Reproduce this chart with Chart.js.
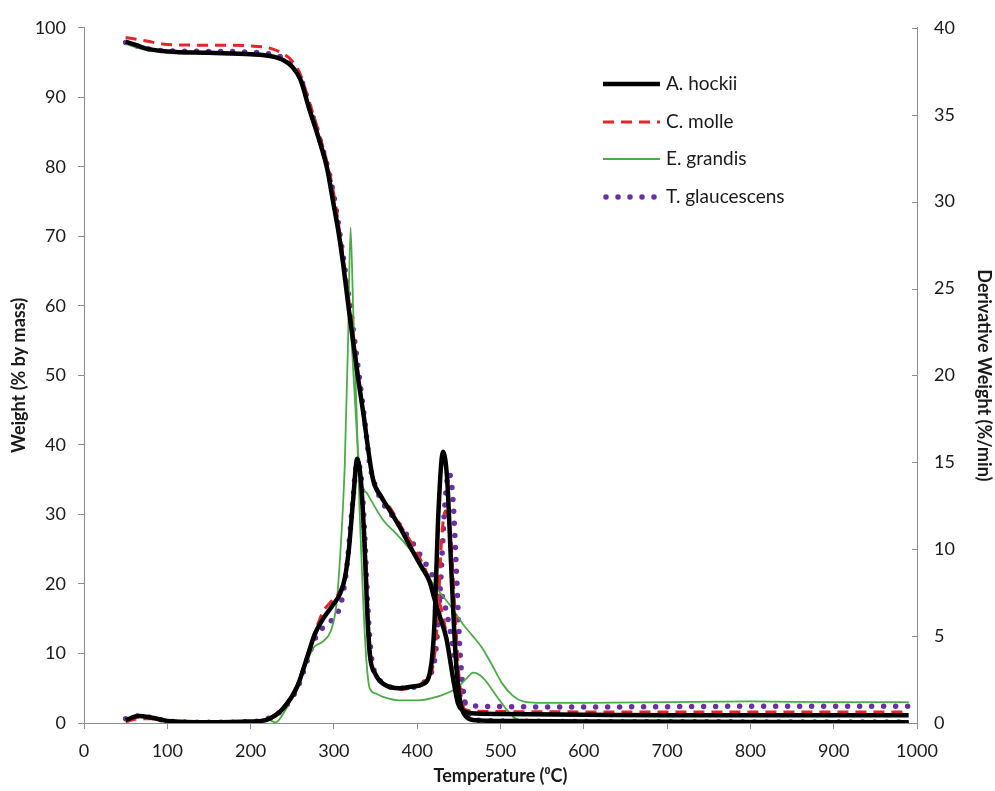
<!DOCTYPE html>
<html>
<head>
<meta charset="utf-8">
<script src="https://cdn.jsdelivr.net/npm/chart.js@4.4.1/dist/chart.umd.min.js"></script>
<style>
  html, body { margin: 0; padding: 0; background: #fff; }
  #wrap { width: 995px; height: 791px; position: relative; }
</style>
</head>
<body>
<div id="wrap"><canvas id="tga"></canvas></div>
<script>
// species names, same order as the legend
const species = ['A. hockii', 'C. molle', 'E. grandis', 'T. glaucescens'];

// TG curves: temperature (°C) and weight (% by mass)
const hockiiTgT = [50, 60, 75, 100, 150, 200, 225, 240, 250, 260, 270, 283, 292, 299, 305, 310, 319, 329, 336, 341, 347, 357, 367, 380, 391, 405, 415, 421, 428, 435, 443, 449, 455, 465, 500, 600, 700, 800, 900, 990];
const hockiiTg  = [98.0, 97.6, 97.0, 96.6, 96.4, 96.2, 95.9, 95.3, 94.4, 92.5, 88.5, 83.6, 79.7, 75.0, 71.0, 67.0, 58.5, 49.6, 44.0, 39.5, 35.0, 32.5, 30.6, 28.0, 25.5, 22.5, 20.3, 17.7, 15.0, 12.2, 6.5, 2.8, 1.8, 1.4, 1.3, 1.2, 1.1, 1.1, 1.1, 1.1];

const molleTgT = [50, 75, 100, 150, 200, 225, 240, 250, 260, 270, 283, 292, 300, 310, 320, 330, 337, 342, 348, 358, 370, 382, 395, 410, 422, 430, 437, 443, 449, 456, 470, 600, 800, 990];
const molleTg  = [98.6, 98.1, 97.6, 97.5, 97.4, 97.0, 96.2, 95.2, 93.2, 89.5, 84.5, 80.5, 76.0, 68.0, 59.0, 49.5, 43.0, 38.5, 35.0, 32.5, 30.5, 28.0, 25.5, 22.0, 18.5, 16.0, 11.0, 6.0, 3.0, 2.0, 1.7, 1.6, 1.6, 1.6];

const grandisTgT = [50, 75, 100, 150, 200, 225, 240, 250, 260, 270, 283, 292, 300, 310, 315, 320, 325, 329, 332, 340, 359, 375, 391, 405, 415, 427, 439, 447, 455, 466, 478, 490, 502, 515, 527, 545, 600, 700, 800, 900, 990];
const grandisTg  = [97.7, 96.8, 96.5, 96.4, 96.3, 96.0, 95.3, 94.4, 92.5, 89.0, 84.0, 80.0, 75.5, 67.5, 63.0, 57.0, 47.0, 39.0, 35.0, 33.0, 29.2, 27.2, 25.0, 22.6, 20.7, 18.8, 17.0, 15.6, 14.2, 12.6, 10.8, 8.3, 5.7, 3.9, 3.1, 2.9, 2.9, 3.0, 3.1, 3.0, 3.0];

const glaucTgT = [50, 75, 100, 150, 200, 225, 240, 250, 260, 270, 283, 292, 300, 310, 320, 330, 337, 343, 350, 359, 370, 383, 395, 407, 417, 424, 432, 440, 446, 451, 456, 462, 480, 600, 800, 990];
const glaucTg  = [97.9, 97.0, 96.7, 96.6, 96.5, 96.2, 95.6, 94.6, 92.8, 89.0, 84.0, 80.2, 75.8, 68.0, 59.5, 50.2, 43.5, 37.3, 34.0, 31.6, 29.8, 27.8, 25.8, 23.5, 21.5, 19.8, 17.5, 13.0, 8.5, 5.6, 3.3, 2.6, 2.4, 2.3, 2.4, 2.4];

// DTG curves: temperature (°C) and derivative weight (%/min)
const hockiiDtgT = [50, 65, 80, 100, 150, 199, 220, 239, 256, 268, 277, 287, 299, 307, 313, 318, 323, 328, 333, 337, 340, 343, 350, 360, 379, 395, 407, 417, 421, 425, 431, 436, 441, 446, 451, 458, 470, 500, 600, 800, 990];
const hockiiDtg  = [0.16, 0.4, 0.32, 0.12, 0.04, 0.08, 0.2, 0.84, 2.1, 3.8, 5.1, 6.0, 6.8, 7.4, 8.3, 10.0, 12.8, 15.2, 13.6, 10.0, 6.4, 4.0, 2.8, 2.24, 2.0, 2.1, 2.24, 3.4, 6.0, 11.6, 15.6, 14.0, 8.8, 4.0, 1.4, 0.4, 0.16, 0.12, 0.08, 0.06, 0.04];

const molleDtgT = [50, 65, 80, 100, 150, 200, 220, 239, 256, 268, 277, 287, 297, 305, 313, 318, 323, 329, 334, 338, 341, 344, 351, 361, 380, 397, 410, 420, 425, 429, 434, 440, 445, 450, 455, 462, 480, 600, 990];
const molleDtg  = [0.08, 0.24, 0.24, 0.12, 0.04, 0.08, 0.24, 0.9, 2.2, 3.9, 5.2, 6.4, 7.0, 7.4, 8.4, 10.2, 12.8, 15.0, 13.2, 10.0, 6.4, 4.0, 2.7, 2.16, 1.96, 2.08, 2.5, 3.6, 6.4, 10.4, 12.2, 10.8, 6.8, 2.8, 1.0, 0.32, 0.12, 0.08, 0.04];

const grandisDtgT = [50, 65, 80, 100, 150, 200, 220, 230, 240, 259, 275, 287, 297, 303, 308, 313, 317, 320, 323, 327, 331, 335, 339, 343, 350, 359, 379, 400, 423, 447, 460, 467, 479, 496, 507, 515, 525, 540, 600, 990];
const grandisDtg  = [0.2, 0.36, 0.32, 0.12, 0.04, 0.08, 0.2, 0.04, 0.6, 2.4, 4.3, 4.7, 5.4, 6.8, 10.0, 14.8, 22.0, 28.5, 24.0, 18.3, 12.0, 7.2, 3.6, 2.0, 1.7, 1.5, 1.3, 1.3, 1.5, 2.0, 2.6, 2.9, 2.6, 1.5, 0.8, 0.36, 0.12, 0.04, 0.02, 0.02];

const glaucDtgT = [50, 65, 80, 100, 150, 200, 220, 239, 256, 268, 277, 291, 303, 310, 316, 322, 328, 333, 337, 341, 345, 352, 362, 380, 398, 412, 422, 428, 433, 438, 443, 447, 451, 456, 462, 475, 500, 600, 990];
const glaucDtg  = [0.24, 0.4, 0.32, 0.12, 0.04, 0.08, 0.24, 0.8, 2.0, 3.6, 4.8, 5.7, 6.2, 7.2, 9.2, 12.4, 15.0, 14.0, 10.8, 6.4, 3.8, 2.7, 2.2, 2.0, 2.08, 2.6, 4.0, 8.0, 12.4, 14.4, 12.8, 8.8, 4.4, 1.6, 0.48, 0.16, 0.12, 0.08, 0.06];

const styles = [
    { color: '#000000', width: 4.5, dash: [], cap: 'butt' },
    { color: '#e3262a', width: 3, dash: [11, 7], cap: 'butt' },
    { color: '#4bab45', width: 1.8, dash: [], cap: 'butt' },
    { color: '#6a2fa0', width: 5.5, dash: [0, 12], cap: 'round' }
];

const pts = (xs, ys) => xs.map((x, i) => ({ x, y: ys[i] }));

const tgSets = [pts(hockiiTgT, hockiiTg), pts(molleTgT, molleTg), pts(grandisTgT, grandisTg), pts(glaucTgT, glaucTg)];
const dtgSets = [pts(hockiiDtgT, hockiiDtg), pts(molleDtgT, molleDtg), pts(grandisDtgT, grandisDtg), pts(glaucDtgT, glaucDtg)];

function makeSet(label, data, s, axis) {
    return {
        label, data, yAxisID: axis,
        borderColor: s.color, borderWidth: s.width, borderDash: s.dash, borderCapStyle: s.cap,
        pointRadius: 0, fill: false, tension: 0.4, cubicInterpolationMode: 'monotone'
    };
}

const datasets = [];
species.forEach((name, i) => {
    datasets.push(makeSet(name, tgSets[i], styles[i], 'y'));
    datasets.push(makeSet(name + ' DTG', dtgSets[i], styles[i], 'y1'));
});

const axisGray = '#8c8c8c';
const textColor = '#1a1a1a';
Chart.defaults.font.family = 'Lato, "Liberation Sans", sans-serif';
Chart.defaults.font.size = 18;
Chart.defaults.color = textColor;

// legend drawn inside the plot, same place as the original
const innerLegend = {
    id: 'innerLegend',
    afterDraw(chart) {
        const ctx = chart.ctx;
        const rows = [84, 122, 159, 197];
        ctx.save();
        ctx.font = '19px ' + Chart.defaults.font.family;
        ctx.textBaseline = 'middle';
        ctx.fillStyle = textColor;
        species.forEach((name, i) => {
            const s = styles[i];
            ctx.beginPath();
            ctx.strokeStyle = s.color;
            ctx.lineWidth = s.width;
            ctx.setLineDash(s.dash);
            ctx.lineCap = s.cap;
            ctx.moveTo(i === 3 ? 606 : 603, rows[i]);
            ctx.lineTo(660, rows[i]);
            ctx.stroke();
            ctx.setLineDash([]);
            ctx.fillText(name, 666, rows[i]);
        });
        ctx.restore();
    }
};

// right axis has its tick marks on the inside
const rightTicks = {
    id: 'rightTicks',
    afterDraw(chart) {
        const sc = chart.scales.y1, ctx = chart.ctx;
        ctx.save();
        ctx.strokeStyle = axisGray;
        ctx.lineWidth = 1;
        sc.ticks.forEach(t => {
            const y = Math.round(sc.getPixelForValue(t.value)) + 0.5;
            ctx.beginPath();
            ctx.moveTo(sc.left - 5, y);
            ctx.lineTo(sc.left, y);
            ctx.stroke();
        });
        ctx.restore();
    }
};

const titleFont = { family: Chart.defaults.font.family, size: 18, weight: 'bold' };

new Chart(document.getElementById('tga'), {
    type: 'line',
    data: { datasets },
    options: {
        responsive: true,
        maintainAspectRatio: false,
        animation: false,
        layout: { padding: { top: 17, left: 0, right: 0, bottom: 0 } },
        plugins: { legend: { display: false }, tooltip: { enabled: false } },
        scales: {
            x: {
                type: 'linear', min: 0, max: 1000,
                ticks: { stepSize: 100, padding: 11, maxRotation: 0, callback: v => String(v) },
                grid: { drawOnChartArea: false, color: axisGray, tickLength: 6 },
                border: { color: axisGray },
                title: { display: true, text: 'Temperature (\u2070C)', font: titleFont, padding: { top: 0, bottom: 4 } },
                afterFit: s => { s.height = 68; }
            },
            y: {
                type: 'linear', position: 'left', min: 0, max: 100,
                ticks: { stepSize: 10, padding: 12 },
                grid: { drawOnChartArea: false, color: axisGray, tickLength: 6 },
                border: { color: axisGray },
                title: { display: true, text: 'Weight (% by mass)', font: titleFont, padding: { top: 8, bottom: 10 } },
                afterFit: s => { s.width = 84; }
            },
            y1: {
                type: 'linear', position: 'right', min: 0, max: 40,
                ticks: { stepSize: 5, padding: 17 },
                grid: { drawOnChartArea: false, drawTicks: false },
                border: { color: axisGray },
                title: { display: true, text: 'Derivative Weight (%/min)', font: titleFont, padding: { top: 0, bottom: 3 } },
                afterFit: s => { s.width = 78; }
            }
        }
    },
    plugins: [innerLegend, rightTicks]
});
</script>
</body>
</html>
